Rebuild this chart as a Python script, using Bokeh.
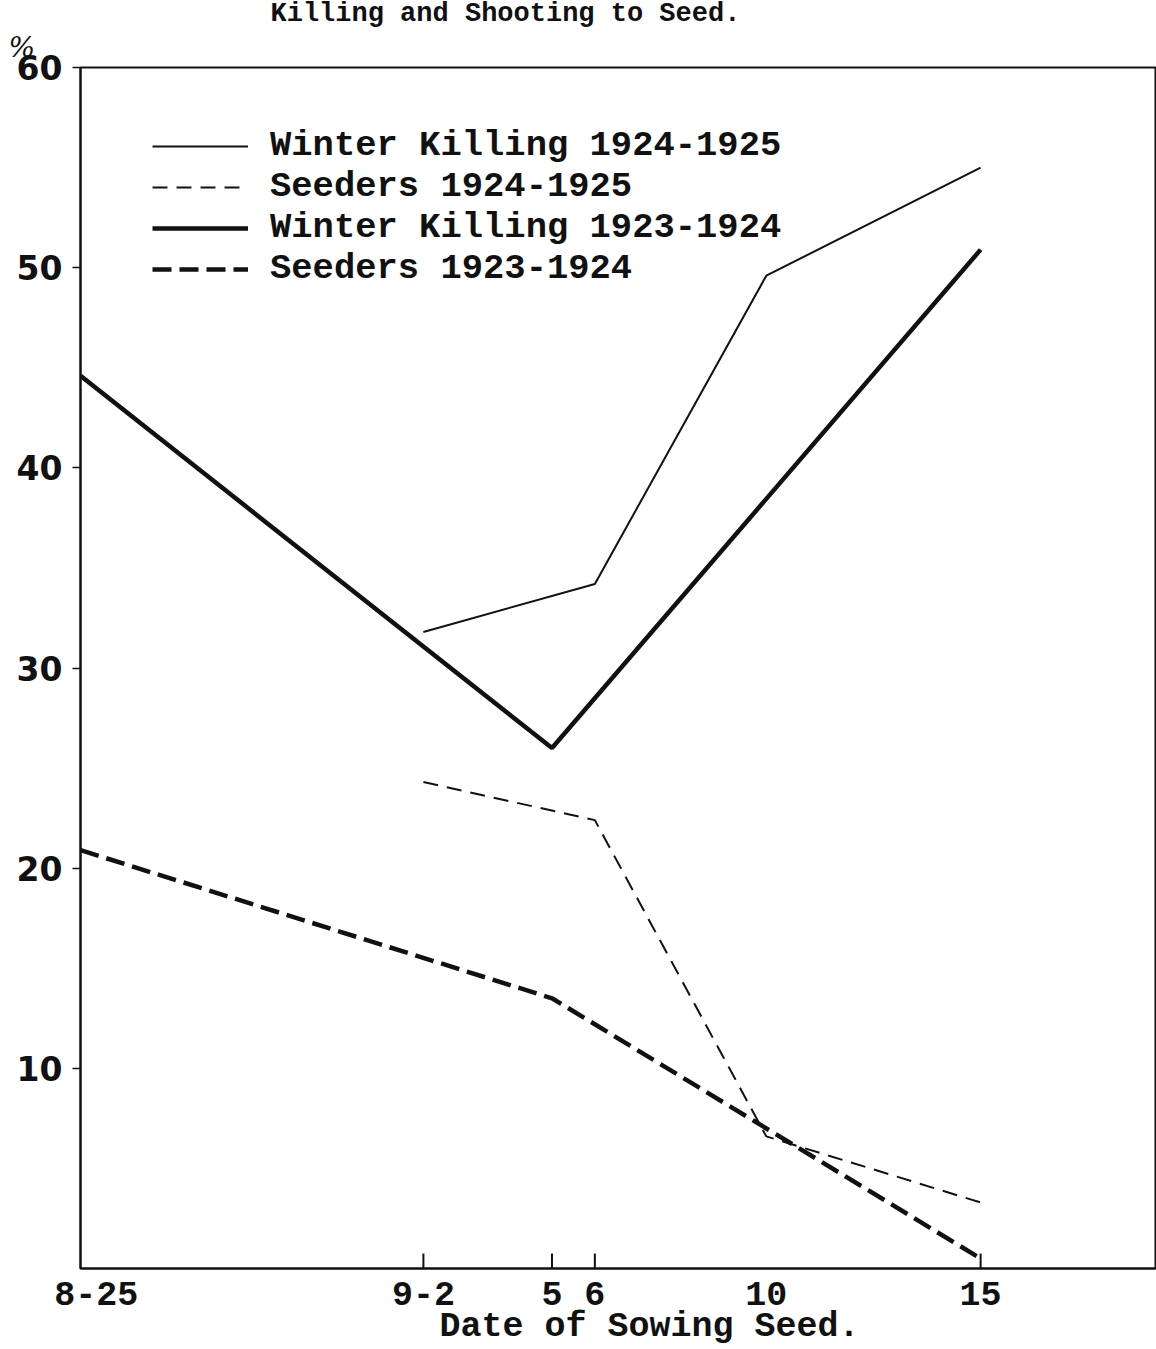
from bokeh.plotting import figure
from bokeh.models import Range1d, FixedTicker, Legend, LegendItem, Title
from bokeh.embed import file_html
from bokeh.resources import INLINE

# Days after Aug 25 (sowing dates)
tick_days = [0, 8, 11, 12, 16, 21]
tick_labels = ["8-25", "9-2", "5", "6", "10", "15"]
tick_mark_days = [8, 11, 12, 21]

wk2425_x = [8, 12, 16, 21]
wk2425_y = [31.8, 34.2, 49.6, 55.0]

sd2425_x = [8, 12, 16, 21]
sd2425_y = [24.3, 22.4, 6.6, 3.3]

wk2324_x = [0, 11, 21]
wk2324_y = [44.6, 26.0, 50.9]

sd2324_x = [0, 11, 21]
sd2324_y = [20.9, 13.5, 0.5]

y_ticks = [10, 20, 30, 40, 50, 60]

INK = "#111111"
MONO = "Liberation Mono"

p = figure(width=1156, height=1349, output_backend="svg", toolbar_location=None,
           x_range=Range1d(0, 25.08), y_range=Range1d(0, 60),
           min_border_left=80, min_border_right=1, min_border_top=67,
           min_border_bottom=81)
p.xgrid.visible = False
p.ygrid.visible = False
p.outline_line_color = INK
p.outline_line_width = 2
p.background_fill_color = "white"
p.border_fill_color = "white"

# "%" unit mark (nearest the frame) and the heading above it
p.add_layout(Title(text="%", align="left", offset=-72, standoff=8,
                   text_font="DejaVu Serif", text_font_style="italic",
                   text_font_size="28px", text_color=INK), "above")
p.add_layout(Title(text="Killing and Shooting to Seed.", align="left", offset=190,
                   standoff=-8, text_font=MONO, text_font_style="bold",
                   text_font_size="27px", text_color=INK), "above")

ya = p.yaxis[0]
ya.ticker = FixedTicker(ticks=y_ticks)
ya.axis_line_color = INK
ya.axis_line_width = 2
ya.major_tick_line_color = INK
ya.major_tick_line_width = 1.5
ya.major_tick_out = 8
ya.major_tick_in = 0
ya.minor_tick_line_color = None
ya.major_label_standoff = 10
ya.major_label_text_font = "DejaVu Sans"
ya.major_label_text_font_style = "bold"
ya.major_label_text_font_size = "33px"
ya.major_label_text_color = INK

# label positions: the first date label sits a little right of the corner
label_pos = [d + (0.37 if d == 0 else 0) for d in tick_days]
xa = p.xaxis[0]
xa.ticker = FixedTicker(ticks=label_pos)
xa.major_label_overrides = {d: s for d, s in zip(label_pos, tick_labels)}
xa.axis_line_color = INK
xa.axis_line_width = 2
xa.major_tick_line_color = None
xa.minor_tick_line_color = None
xa.major_tick_in = 0
xa.major_tick_out = 0
xa.major_label_standoff = 13
xa.major_label_text_font = MONO
xa.major_label_text_font_style = "bold"
xa.major_label_text_font_size = "35px"
xa.major_label_text_color = INK
xa.axis_label = "\u00a0\u00a0\u00a0Date of Sowing Seed."
xa.axis_label_standoff = -1
xa.axis_label_text_font = MONO
xa.axis_label_text_font_style = "bold"
xa.axis_label_text_font_size = "35px"
xa.axis_label_text_color = INK

# small inward tick marks at the sowing dates
p.segment(x0=tick_mark_days, y0=[0] * len(tick_mark_days),
          x1=tick_mark_days, y1=[0.75] * len(tick_mark_days),
          line_color=INK, line_width=2)

r1 = p.line(wk2425_x, wk2425_y, line_color=INK, line_width=2)
r2 = p.line(sd2425_x, sd2425_y, line_color=INK, line_width=2, line_dash="15 9")
r3 = p.line(wk2324_x, wk2324_y, line_color=INK, line_width=4.5)
r4 = p.line(sd2324_x, sd2324_y, line_color=INK, line_width=4.5, line_dash="19 8")

legend = Legend(items=[
    LegendItem(label="Winter Killing 1924-1925", renderers=[r1]),
    LegendItem(label="Seeders 1924-1925", renderers=[r2]),
    LegendItem(label="Winter Killing 1923-1924", renderers=[r3]),
    LegendItem(label="Seeders 1923-1924", renderers=[r4]),
], location=(72, 979))
legend.glyph_width = 96
legend.glyph_height = 20
legend.label_standoff = 22
legend.label_height = 39
legend.spacing = 0
legend.padding = 0
legend.margin = 0
legend.border_line_color = None
legend.background_fill_alpha = 0
legend.label_text_font = MONO
legend.label_text_font_style = "bold"
legend.label_text_font_size = "35.5px"
legend.label_text_color = INK
p.add_layout(legend)

open("out.html", "w").write(file_html(p, INLINE))
